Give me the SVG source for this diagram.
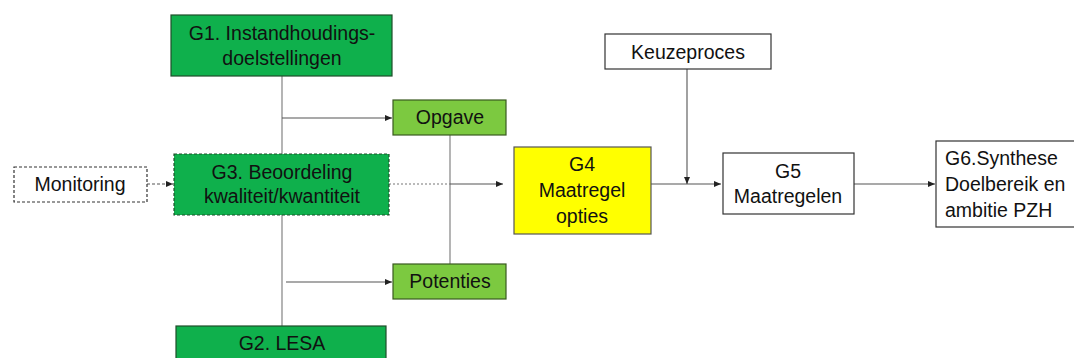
<svg xmlns="http://www.w3.org/2000/svg" width="1074" height="358" viewBox="0 0 1074 358">
<defs>
<marker id="ah" markerWidth="8" markerHeight="8" refX="7" refY="4" orient="auto" markerUnits="userSpaceOnUse">
<path d="M0,1 L7,4 L0,7 Z" fill="#222"/>
</marker>
<style>
text{font-family:"Liberation Sans",Arial,sans-serif;font-size:19.5px;fill:#111;text-anchor:middle}
.dk{fill:#0fb04c;stroke:#1f4e2a;stroke-width:1.2}
.lt{fill:#7cc940;stroke:#3a5a20;stroke-width:1.2}
.wh{fill:#fff;stroke:#333;stroke-width:1.2}
.dash{stroke-dasharray:3,2}
.ln{stroke:#777;stroke-width:1.1;fill:none}
.ar{stroke:#555;stroke-width:1.1;fill:none;marker-end:url(#ah)}
</style>
</defs>
<rect width="1074" height="358" fill="#fff"/>
<g id="connectors">
<line class="ln" x1="282" y1="76" x2="282" y2="154"/>
<line class="ln" x1="282" y1="215" x2="282" y2="326"/>
<line class="ar" x1="282" y1="118" x2="392" y2="118"/>
<line class="ar" x1="286" y1="282" x2="392" y2="282"/>
<line class="ln" x1="450" y1="135" x2="450" y2="264"/>
<line class="ar dash" x1="147" y1="184" x2="173" y2="184"/>
<line class="ln" x1="389" y1="184" x2="450" y2="184" stroke-dasharray="2,2"/>
<line class="ar" x1="450" y1="184" x2="503" y2="184"/>
<line class="ar" x1="651" y1="184" x2="721" y2="184"/>
<line class="ar" x1="687" y1="69" x2="687" y2="184"/>
<line class="ar" x1="854" y1="184" x2="935" y2="184"/>
</g>
<g id="g1"><rect class="dk" x="171" y="15" width="221" height="61"/><text x="282" y="40">G1. Instandhoudings-</text><text x="282" y="65">doelstellingen</text></g>
<g id="monitoring"><rect class="wh dash" x="14" y="167" width="133" height="35"/><text x="80" y="191">Monitoring</text></g>
<g id="g3"><rect class="dk dash" x="174" y="154" width="215" height="61"/><text x="282" y="179">G3. Beoordeling</text><text x="282" y="203">kwaliteit/kwantiteit</text></g>
<g id="g2"><rect class="dk" x="176" y="326" width="210" height="40"/><text x="282" y="350">G2. LESA</text></g>
<g id="opgave"><rect class="lt" x="393" y="100" width="113" height="35"/><text x="450" y="124">Opgave</text></g>
<g id="potenties"><rect class="lt" x="393" y="264" width="113" height="35"/><text x="450" y="288">Potenties</text></g>
<g id="g4"><rect x="514" y="147" width="137" height="87" fill="#ffff00" stroke="#555" stroke-width="1.2"/><text x="582" y="171">G4</text><text x="582" y="197">Maatregel</text><text x="582" y="223">opties</text></g>
<g id="keuzeproces"><rect class="wh" x="605" y="34" width="166" height="35"/><text x="688" y="59">Keuzeproces</text></g>
<g id="g5"><rect class="wh" x="723" y="153" width="131" height="61"/><text x="788" y="178">G5</text><text x="788" y="203">Maatregelen</text></g>
<g id="g6"><rect class="wh" x="936" y="141" width="142" height="86"/><text x="945" y="165" style="text-anchor:start">G6.Synthese</text><text x="945" y="191" style="text-anchor:start">Doelbereik en</text><text x="945" y="217" style="text-anchor:start">ambitie PZH</text></g>
</svg>
